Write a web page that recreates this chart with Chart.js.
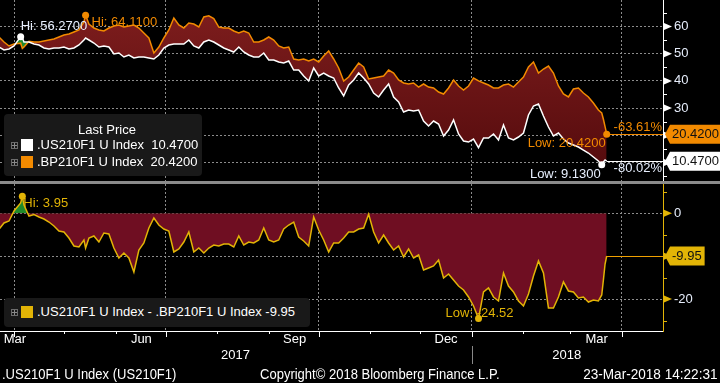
<!DOCTYPE html>
<html>
<head>
<meta charset="utf-8">
<script src="https://cdn.jsdelivr.net/npm/chart.js@4.4.1/dist/chart.umd.min.js"></script>
<style>
  html, body { margin:0; padding:0; background:#000; }
  #wrap { position:relative; width:720px; height:383px; overflow:hidden; background:#000; }
  canvas { position:absolute; left:0; }
  #cTop { top:0; }
  #cBot { top:184px; }
  #sep { position:absolute; left:0; top:181px; width:720px; height:3px; background:#8b8b8b; }
  .leg { position:absolute; background:#191919; border-radius:4px; color:#fff;
         font:13px 'Liberation Sans', Arial, sans-serif; white-space:pre; }
  .leg .t { position:absolute; line-height:16px; height:16px; }
  .ico { position:absolute; width:5px; height:5px; border:1px solid #6c6c6c; }
  .ico:before { content:''; position:absolute; left:2px; top:0; width:1px; height:5px; background:#8a8a8a; }
  .ico:after { content:''; position:absolute; left:0; top:2px; width:5px; height:1px; background:#8a8a8a; }
  .sw { position:absolute; width:12px; height:12px; }
  .foot { position:absolute; top:366px; height:16px; line-height:16px; color:#fff; white-space:pre;
          font:14px 'Liberation Sans', Arial, sans-serif; }
  #f1 { transform:scaleX(0.93); transform-origin:0 50%; }
  #f2 { transform:scaleX(0.93); transform-origin:0 50%; }
  #f3 { transform:scaleX(0.97); transform-origin:100% 50%; }
</style>
</head>
<body>
<div id="wrap">
  <canvas id="cTop" width="720" height="181"></canvas>
  <div id="sep"></div>
  <canvas id="cBot" width="720" height="199"></canvas>
  <div class="leg" id="legTop" style="left:4px;top:114px;width:198px;height:62px;"></div>
  <div class="leg" id="legBot" style="left:4px;top:298px;width:306px;height:29px;"></div>
  <div class="foot" id="f1" style="left:2px;"></div>
  <div class="foot" id="f2" style="left:260px;"></div>
  <div class="foot" id="f3" style="right:2px;"></div>
</div>
<script>
// ---------- data (days since 23-Mar-2017) ----------
const days = [0,3,6,9,13,14,15,18,21,24,
  27,30,33,36,39,42,45,48,51,52,
  54,57,60,63,66,69,72,75,78,81,
  84,87,90,93,96,99,102,105,108,111,
  114,117,120,123,126,129,132,135,138,141,
  144,147,150,153,156,159,162,165,168,171,
  174,177,180,183,186,189,192,195,198,201,
  204,207,210,213,216,219,222,225,228,231,
  234,237,240,243,246,249,252,255,258,261,
  264,267,270,273,276,279,282,285,288,291,
  294,297,300,303,306,309,312,315,318,321,
  324,327,330,333,336,339,342,345,348,351,
  354,357,360,362,363,364,365];

const bpValues = [56.11,54.30,52.83,53.56,53.87,51.95,52.50,54.60,54.30,54.30,
  54.67,55.03,55.40,56.14,56.87,57.24,57.98,58.71,61.65,64.11,
  60.92,59.45,58.71,58.34,59.45,60.18,60.55,59.81,60.18,60.55,
  59.45,57.61,55.77,50.25,52.46,55.77,58.71,63.12,60.55,59.45,
  61.28,60.92,59.81,63.49,63.90,62.90,59.81,59.45,59.45,58.34,
  57.61,58.34,57.61,54.30,54.30,55.03,56.14,55.03,52.83,52.09,
  52.46,48.05,47.68,48.05,47.31,48.05,46.95,49.15,50.99,48.05,
  44.74,39.96,41.43,44.00,46.58,45.11,40.70,41.06,41.43,41.80,
  44.00,42.90,40.33,39.23,38.86,39.23,37.75,38.86,37.75,37.39,
  35.92,35.18,37.39,40.33,38.12,36.65,38.12,41.06,40.00,39.23,
  38.49,37.39,37.39,38.49,38.86,37.75,39.59,41.43,45.11,46.95,
  42.90,44.37,45.48,42.90,38.12,35.18,34.08,37.02,37.39,35.55,
  34.08,31.87,29.30,28.20,25.90,23.20,20.42];

const usValues = [52.40,51.36,51.73,52.83,56.27,55.90,54.30,54.30,53.56,53.20,
  52.09,51.73,52.09,52.09,52.46,51.73,52.09,53.20,55.03,55.77,
  55.03,53.93,52.46,52.83,52.46,49.89,50.25,48.78,49.52,48.42,
  48.78,48.78,48.42,48.05,49.52,52.09,53.20,53.56,53.56,53.56,
  55.03,52.83,52.09,54.30,55.03,54.30,53.20,52.09,51.36,50.62,
  52.46,50.62,49.52,48.78,48.78,50.25,47.68,47.68,46.95,46.58,
  47.31,44.00,44.00,41.80,39.96,44.74,41.80,42.90,41.80,41.06,
  37.39,34.45,38.49,40.33,42.90,41.06,38.86,35.55,34.08,36.65,
  38.86,34.08,32.24,28.56,29.30,28.93,29.30,25.25,23.42,25.25,
  24.15,19.74,21.95,25.62,20.48,17.90,17.53,18.64,15.48,19.00,
  19.00,20.48,18.27,23.78,19.00,18.27,19.37,20.84,27.46,30.77,
  31.50,27.09,23.05,19.74,20.84,18.64,17.17,16.43,15.70,14.59,
  13.49,12.02,10.55,9.13,10.18,10.92,10.47];

const spreadValues = [-3.71,-2.26,-1.79,0.54,2.40,3.95,1.93,-0.63,-0.30,-0.86,
  -1.33,-2.03,-2.96,-4.13,-4.36,-5.76,-7.62,-7.86,-6.22,-8.09,
  -5.76,-5.29,-6.69,-4.59,-4.82,-8.09,-10.42,-9.25,-10.42,-13.68,
  -8.55,-6.92,-3.43,-1.10,-2.73,-3.66,-4.13,-9.02,-8.32,-6.69,
  -4.36,-9.02,-8.09,-9.25,-8.09,-7.39,-7.62,-7.16,-7.16,-7.86,
  -5.29,-7.39,-6.69,-6.92,-6.22,-3.43,-6.22,-6.69,-6.22,-3.66,
  -2.73,-2.03,-5.52,-6.46,-7.62,-0.86,-3.89,-6.22,-9.02,-6.92,
  -6.92,-5.76,-4.36,-4.36,-3.66,-3.43,-0.20,-4.36,-6.92,-5.06,
  -6.92,-8.55,-7.62,-10.19,-8.32,-10.42,-9.72,-13.22,-12.75,-12.28,
  -10.89,-15.08,-14.15,-15.55,-16.95,-17.88,-19.51,-21.61,-24.52,-18.34,
  -17.41,-19.51,-20.44,-13.92,-16.95,-18.34,-20.44,-21.61,-18.81,-14.62,
  -11.12,-13.92,-22.07,-22.07,-19.51,-16.01,-18.11,-18.34,-19.74,-19.51,
  -20.68,-20.21,-20.44,-19.04,-15.55,-11.82,-9.95];

const seriesNames = ['.US210F1 U Index', '.BP210F1 U Index'];
const spreadName = '.US210F1 U Index - .BP210F1 U Index';

// axis ticks (days since 23-Mar-2017)
const gridDays = [9, 100, 192, 284, 374];
const monthStartDays = [9, 39, 70, 100, 131, 162, 192, 223, 253, 284, 315, 343, 374];
const monthLabels = ['Mar', 'Jun', 'Sep', 'Dec', 'Mar'];
const monthLabelDays = [9.5, 85.5, 177.5, 268.5, 359];
const yearLabels = ['2017', '2018'];
const yearLabelDays = [142, 341];
const yearBreakDays = [284];
const topTicks = [10, 20, 30, 40, 50, 60];
const topMinorTicks = [5, 15, 25, 35, 45, 55, 65];
const botTicks = [0, -10, -20];
const botMinorTicks = [5, -5, -15, -25];

const footLeft = '.US210F1 U Index (US210F1)';
const footMid = 'Copyright\u00a9 2018 Bloomberg Finance L.P.';
const footRight = '23-Mar-2018 14:22:31';

// ---------- style ----------
const X_MIN = 0.59, X_MAX = 398.8;
const GRID = '#8c8c8c';
const ORANGE = '#f28a00';
const GOLD = '#e2b406';
const GREEN = '#1f8a2c';
const CRIMSON = '#6f0e22';
const TICKTXT = '#e6edfb';
const SANS = "'Liberation Sans', Arial, sans-serif";
Chart.defaults.font.family = SANS;

function argMax(a) { let k = 0; a.forEach((v, i) => { if (v > a[k]) k = i; }); return k; }
function argMin(a) { let k = 0; a.forEach((v, i) => { if (v < a[k]) k = i; }); return k; }
function dot(ctx, x, y, r, c) { ctx.beginPath(); ctx.arc(x, y, r, 0, Math.PI * 2); ctx.fillStyle = c; ctx.fill(); }
function txt(ctx, s, x, y, c, align, size) {
  ctx.font = (size || 13) + 'px ' + SANS; ctx.fillStyle = c; ctx.textAlign = align; ctx.textBaseline = 'middle';
  ctx.fillText(s, x, y);
}
function hline(ctx, x0, x1, y, c) {
  const p = Math.round(y) + 0.5;
  ctx.strokeStyle = c; ctx.lineWidth = 1; ctx.beginPath(); ctx.moveTo(x0, p); ctx.lineTo(x1, p); ctx.stroke();
}
function axisMarks(ctx, scale, left, majors, minors, c) {
  ctx.fillStyle = c; ctx.strokeStyle = c; ctx.lineWidth = 1;
  minors.forEach(v => {
    const p = Math.round(scale.getPixelForValue(v)) + 0.5;
    if (p < scale.top || p > scale.bottom) return;
    ctx.beginPath(); ctx.moveTo(left, p); ctx.lineTo(left + 4, p); ctx.stroke();
  });
  majors.forEach(v => {
    const p = scale.getPixelForValue(v);
    ctx.beginPath(); ctx.moveTo(left + 1, p - 3.5); ctx.lineTo(left + 9, p); ctx.lineTo(left + 1, p + 3.5);
    ctx.closePath(); ctx.fill();
  });
}
function valueBox(ctx, left, yc, s, bg) {
  ctx.font = '13px ' + SANS;
  const w = ctx.measureText(s).width;
  const body = left + 7, x1 = Math.min(720, body + w + 5);
  ctx.fillStyle = bg; ctx.beginPath();
  ctx.moveTo(left + 2, yc); ctx.lineTo(body, yc - 9.5); ctx.lineTo(x1, yc - 9.5);
  ctx.lineTo(x1, yc + 9.5); ctx.lineTo(body, yc + 9.5); ctx.closePath(); ctx.fill();
  txt(ctx, s, body + 2, yc + 0.5, '#111', 'left', 13);
}

// ---------- top chart ----------
const topCtx = document.getElementById('cTop').getContext('2d');
const maroon = topCtx.createLinearGradient(0, 0, 0, 181);
maroon.addColorStop(0, 'rgb(128,30,30)');
maroon.addColorStop(1, 'rgb(82,10,12)');

const topDecor = {
  id: 'topDecor',
  afterDraw(chart) {
    const { ctx, chartArea: { right }, scales: { x, y } } = chart;
    ctx.save();
    axisMarks(ctx, y, right, topTicks, topMinorTicks, '#ffffff');
    const n = days.length - 1, xe = x.getPixelForValue(days[n]);
    const yb = y.getPixelForValue(bpValues[n]), yu = y.getPixelForValue(usValues[n]);
    hline(ctx, xe, right, yb, ORANGE);
    hline(ctx, xe, right, yu, '#ffffff');
    const pb = (bpValues[n] / bpValues[0] - 1) * 100, pu = (usValues[n] / usValues[0] - 1) * 100;
    txt(ctx, pb.toFixed(2) + '%', right - 1, yb - 7, ORANGE, 'right', 13);
    txt(ctx, pu.toFixed(2) + '%', right - 1, yu + 7, '#e8f0ff', 'right', 13);
    const iuh = argMax(usValues), ibh = argMax(bpValues), iul = argMin(usValues), ibl = argMin(bpValues);
    let px = x.getPixelForValue(days[iuh]), py = y.getPixelForValue(usValues[iuh]);
    txt(ctx, 'Hi: ' + usValues[iuh].toFixed(4), px, py - 10, '#e8f0ff', 'left');
    dot(ctx, px, py, 3.5, '#ffffff');
    px = x.getPixelForValue(days[ibh]); py = y.getPixelForValue(bpValues[ibh]);
    dot(ctx, px, py, 3.5, ORANGE);
    txt(ctx, 'Hi: ' + bpValues[ibh].toFixed(4), px + 6, py + 7, ORANGE, 'left');
    px = x.getPixelForValue(days[ibl]); py = y.getPixelForValue(bpValues[ibl]);
    txt(ctx, 'Low: ' + bpValues[ibl].toFixed(4), px - 1, py + 9, ORANGE, 'right');
    dot(ctx, px, py, 3.5, ORANGE);
    px = x.getPixelForValue(days[iul]); py = y.getPixelForValue(usValues[iul]);
    txt(ctx, 'Low: ' + usValues[iul].toFixed(4), px - 1, py + 10, '#e8f0ff', 'right');
    dot(ctx, px, py, 3.5, '#ffffff');
    valueBox(ctx, right, yb, bpValues[n].toFixed(4), ORANGE);
    valueBox(ctx, right, yu, usValues[n].toFixed(4), '#ffffff');
    ctx.restore();
  }
};

new Chart(topCtx, {
  type: 'line',
  data: {
    datasets: [
      { label: seriesNames[0], data: days.map((d, i) => ({ x: d, y: usValues[i] })),
        borderColor: '#ffffff', borderWidth: 1.5, pointRadius: 0, tension: 0,
        fill: { target: 1, above: GREEN, below: maroon } },
      { label: seriesNames[1], data: days.map((d, i) => ({ x: d, y: bpValues[i] })),
        borderColor: ORANGE, borderWidth: 1.5, pointRadius: 0, tension: 0, fill: false }
    ]
  },
  options: {
    responsive: false, animation: false, devicePixelRatio: 1,
    layout: { padding: 0 },
    plugins: { legend: { display: false }, tooltip: { enabled: false }, filler: { drawTime: 'beforeDatasetsDraw' } },
    scales: {
      x: { type: 'linear', min: X_MIN, max: X_MAX,
        afterBuildTicks: s => { s.ticks = gridDays.map(v => ({ value: v })); },
        afterFit: s => { s.height = 0; s.paddingLeft = 0; s.paddingRight = 0; },
        ticks: { display: false },
        grid: { color: GRID, lineWidth: 1, drawTicks: false },
        border: { display: false, dash: [2, 2] } },
      y: { type: 'linear', position: 'right', min: 3.2, max: 69.74,
        afterBuildTicks: s => { s.ticks = topTicks.map(v => ({ value: v })); },
        afterFit: s => { s.width = 57; s.paddingTop = 0; s.paddingBottom = 0; },
        ticks: { padding: 11, color: TICKTXT, font: { size: 13 }, callback: v => String(v) },
        grid: { color: GRID, lineWidth: 1, drawTicks: false },
        border: { display: true, color: '#ffffff', width: 1, dash: [2, 2] } }
    }
  },
  plugins: [topDecor]
});

// ---------- bottom chart ----------
const botDecor = {
  id: 'botDecor',
  afterDraw(chart) {
    const { ctx, chartArea: { right, bottom }, scales: { x, y } } = chart;
    ctx.save();
    axisMarks(ctx, y, right, botTicks, botMinorTicks, GOLD);
    ctx.strokeStyle = '#ffffff'; ctx.lineWidth = 1;
    monthStartDays.forEach(d => {
      const p = Math.round(x.getPixelForValue(d)) + 0.5;
      const len = gridDays.includes(d) ? 6 : 3;
      ctx.beginPath(); ctx.moveTo(p, bottom); ctx.lineTo(p, bottom + len); ctx.stroke();
    });
    ctx.strokeStyle = '#888888';
    yearBreakDays.forEach(d => {
      const p = Math.round(x.getPixelForValue(d)) + 0.5;
      ctx.beginPath(); ctx.moveTo(p, bottom + 15); ctx.lineTo(p, bottom + 33); ctx.stroke();
    });
    const n = days.length - 1, xe = x.getPixelForValue(days[n]), ye = y.getPixelForValue(spreadValues[n]);
    hline(ctx, xe, right, ye, '#f0a000');
    const ih = argMax(spreadValues), il = argMin(spreadValues);
    let px = x.getPixelForValue(days[ih]), py = y.getPixelForValue(spreadValues[ih]);
    txt(ctx, 'Hi: ' + spreadValues[ih].toFixed(2), px + 1, py + 7, GOLD, 'left');
    dot(ctx, px, py, 3.5, GOLD);
    px = x.getPixelForValue(days[il]); py = y.getPixelForValue(spreadValues[il]);
    txt(ctx, 'Low: ' + spreadValues[il].toFixed(2), px + 1, py - 5, GOLD, 'center');
    dot(ctx, px, py, 3.5, GOLD);
    valueBox(ctx, right, ye, spreadValues[n].toFixed(2), GOLD);
    ctx.restore();
  }
};

const xTickValues = Array.from(new Set([...gridDays, ...monthLabelDays, ...yearLabelDays])).sort((a, b) => a - b);

new Chart(document.getElementById('cBot').getContext('2d'), {
  type: 'line',
  data: {
    datasets: [
      { label: spreadName, data: days.map((d, i) => ({ x: d, y: spreadValues[i] })),
        borderColor: GOLD, borderWidth: 1.5, pointRadius: 0, tension: 0,
        fill: { target: { value: 0 }, above: GREEN, below: CRIMSON } }
    ]
  },
  options: {
    responsive: false, animation: false, devicePixelRatio: 1,
    layout: { padding: 0 },
    plugins: { legend: { display: false }, tooltip: { enabled: false }, filler: { drawTime: 'beforeDatasetsDraw' } },
    scales: {
      x: { type: 'linear', position: 'bottom', min: X_MIN, max: X_MAX,
        afterBuildTicks: s => { s.ticks = xTickValues.map(v => ({ value: v })); },
        afterFit: s => { s.height = 52; s.paddingLeft = 0; s.paddingRight = 0; },
        ticks: { autoSkip: false, maxRotation: 0, minRotation: 0, padding: 1, color: '#ffffff',
          font: { family: SANS, size: 13 },
          callback: v => {
            const i = monthLabelDays.indexOf(v); if (i >= 0) return monthLabels[i];
            const j = yearLabelDays.indexOf(v); if (j >= 0) return ['', yearLabels[j]];
            return '';
          } },
        grid: { color: c => (c.tick && gridDays.includes(c.tick.value)) ? GRID : 'rgba(0,0,0,0)', lineWidth: 1, drawTicks: false },
        border: { display: true, color: '#ffffff', width: 1, dash: [2, 2] } },
      y: { type: 'linear', position: 'right', min: -27.44, max: 6.83,
        afterBuildTicks: s => { s.ticks = botTicks.map(v => ({ value: v })); },
        afterFit: s => { s.width = 57; s.paddingTop = 0; s.paddingBottom = 0; },
        ticks: { padding: 11, color: TICKTXT, font: { size: 13 }, callback: v => String(v) },
        grid: { color: GRID, lineWidth: 1, drawTicks: false },
        border: { display: true, color: GOLD, width: 1, dash: [2, 2] } }
    }
  },
  plugins: [botDecor]
});

// ---------- legends & footer (HTML text) ----------
function el(parent, cls, style, text) {
  const d = document.createElement('div'); d.className = cls; d.setAttribute('style', style);
  if (text !== undefined) d.textContent = text; parent.appendChild(d); return d;
}
const lt = document.getElementById('legTop');
el(lt, 't', 'left:0;width:206px;text-align:center;top:8px;', 'Last Price');
el(lt, 'ico', 'left:7px;top:28px;');
el(lt, 'sw', 'left:17px;top:25px;background:#ffffff;');
el(lt, 't', 'left:33px;top:23px;', seriesNames[0] + '  ' + usValues[usValues.length - 1].toFixed(4));
el(lt, 'ico', 'left:7px;top:45px;');
el(lt, 'sw', 'left:17px;top:42px;background:' + ORANGE + ';');
el(lt, 't', 'left:33px;top:40px;', seriesNames[1] + '  ' + bpValues[bpValues.length - 1].toFixed(4));
const lb = document.getElementById('legBot');
el(lb, 'ico', 'left:7px;top:11px;');
el(lb, 'sw', 'left:17px;top:8px;background:' + GOLD + ';');
el(lb, 't', 'left:33px;top:6px;', spreadName + ' ' + spreadValues[spreadValues.length - 1].toFixed(2));
document.getElementById('f1').textContent = footLeft;
document.getElementById('f2').textContent = footMid;
document.getElementById('f3').textContent = footRight;
</script>
</body>
</html>
